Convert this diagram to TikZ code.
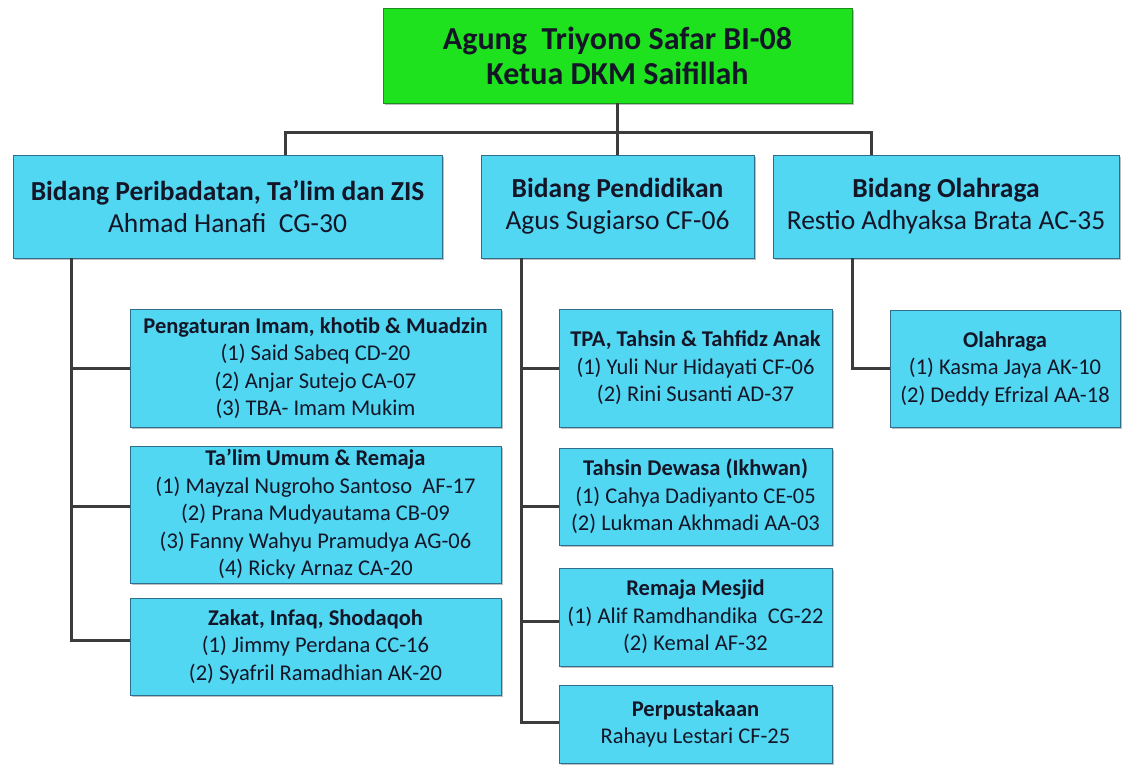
\documentclass[tikz,border=0pt]{standalone}
\usepackage{fontspec}
\setmainfont{Carlito}
\usetikzlibrary{shadows}
\definecolor{boxcyan}{RGB}{82,215,242}
\definecolor{boxedge}{RGB}{50,110,140}
\definecolor{topgreen}{RGB}{30,226,30}
\definecolor{topedge}{RGB}{30,140,30}
\definecolor{txt}{RGB}{20,22,40}
\definecolor{linegray}{RGB}{60,60,60}
\tikzset{
  box/.style={draw=boxedge, line width=0.8pt, fill=boxcyan, inner sep=0pt, align=center, text=txt,
    drop shadow={shadow xshift=2pt, shadow yshift=-2pt, opacity=0.25, fill=black}},
  topbox/.style={box, fill=topgreen, draw=topedge, font=\fontsize{32}{35}\selectfont\bfseries},
  lvtwo/.style={box, font=\fontsize{27.5}{32}\selectfont},
  lvthree/.style={box, font=\fontsize{22.5}{27.5}\selectfont},
  conn/.style={draw=linegray, line width=3pt},
}
\begin{document}
\begin{tikzpicture}[x=1pt,y=-1pt]
\useasboundingbox[fill=white] (0,0) rectangle (1122,770);
% top
\node[topbox, minimum width=469pt, minimum height=95pt] (top) at (617.5,55.5)
  {Agung\ \ Triyono Safar BI-08\\Ketua DKM Saifillah};
% level 2
\node[lvtwo, minimum width=429pt, minimum height=103pt] (L) at (227.5,206.5)
  {\textbf{Bidang Peribadatan, Ta’lim dan ZIS}\\Ahmad Hanafi\ \ CG-30};
\node[lvtwo, minimum width=273pt, minimum height=103pt] (M) at (617.5,206.5)
  {\textbf{Bidang Pendidikan}\\Agus Sugiarso CF-06};
\node[lvtwo, minimum width=346pt, minimum height=103pt] (R) at (946,206.5)
  {\textbf{Bidang Olahraga}\\Restio Adhyaksa Brata AC-35};
% left column
\node[lvthree, minimum width=371pt, minimum height=118pt] (L1) at (315.5,368)
  {\textbf{Pengaturan Imam, khotib \& Muadzin}\\(1) Said Sabeq CD-20\\(2) Anjar Sutejo CA-07\\(3) TBA- Imam Mukim};
\node[lvthree, minimum width=371pt, minimum height=137pt] (L2) at (315.5,514.5)
  {\textbf{Ta’lim Umum \& Remaja}\\(1) Mayzal Nugroho Santoso\ \ AF-17\\(2) Prana Mudyautama CB-09\\(3) Fanny Wahyu Pramudya AG-06\\(4) Ricky Arnaz CA-20};
\node[lvthree, minimum width=371pt, minimum height=97pt] (L3) at (315.5,646.5)
  {\textbf{Zakat, Infaq, Shodaqoh}\\(1) Jimmy Perdana CC-16\\(2) Syafril Ramadhian AK-20};
% middle column
\node[lvthree, minimum width=273pt, minimum height=118pt] (M1) at (695.5,368)
  {\textbf{TPA, Tahsin \& Tahfidz Anak}\\(1) Yuli Nur Hidayati CF-06\\(2) Rini Susanti AD-37};
\node[lvthree, minimum width=273pt, minimum height=97pt] (M2) at (695.5,496.5)
  {\textbf{Tahsin Dewasa (Ikhwan)}\\(1) Cahya Dadiyanto CE-05\\(2) Lukman Akhmadi AA-03};
\node[lvthree, minimum width=273pt, minimum height=98pt] (M3) at (695.5,617)
  {\textbf{Remaja Mesjid}\\(1) Alif Ramdhandika\ \ CG-22\\(2) Kemal AF-32};
\node[lvthree, minimum width=273pt, minimum height=78pt] (M4) at (695.5,724)
  {\textbf{Perpustakaan}\\Rahayu Lestari CF-25};
% right column
\node[lvthree, minimum width=230pt, minimum height=117pt] (R1) at (1005,368.5)
  {\textbf{Olahraga}\\(1) Kasma Jaya AK-10\\(2) Deddy Efrizal AA-18};
% connectors
\coordinate (bus) at (617.5,133);
\draw[conn] ([xshift=57.5pt]L.north) |- (bus) -| ([xshift=-75pt]R.north);
\draw[conn] (top.south) -- (M.north);
\draw[conn] ([xshift=-156.5pt]L.south) |- (L1.west);
\draw[conn] ([xshift=-156.5pt]L.south) |- ([yshift=8pt]L2.west);
\draw[conn] ([xshift=-156.5pt]L.south) |- ([yshift=6pt]L3.west);
\draw[conn] ([xshift=-96.5pt]M.south) |- (M1.west);
\draw[conn] ([xshift=-96.5pt]M.south) |- ([yshift=-10pt]M2.west);
\draw[conn] ([xshift=-96.5pt]M.south) |- ([yshift=-4pt]M3.west);
\draw[conn] ([xshift=-96.5pt]M.south) |- ([yshift=2pt]M4.west);
\draw[conn] ([xshift=-94pt]R.south) |- (R1.west);
\end{tikzpicture}
\end{document}
